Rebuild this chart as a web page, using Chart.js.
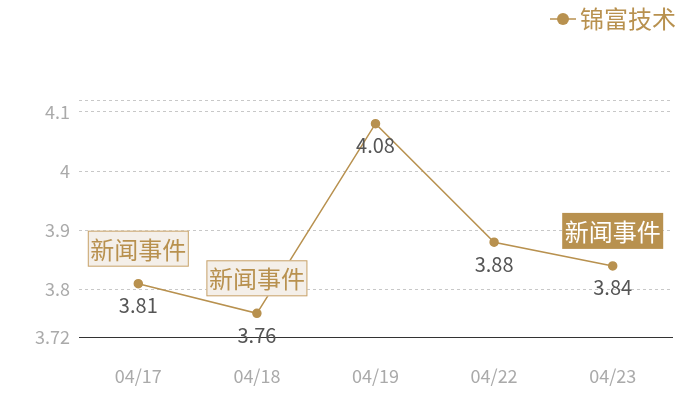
<!DOCTYPE html>
<html>
<head>
<meta charset="utf-8">
<script src="https://cdn.jsdelivr.net/npm/chart.js@4/dist/chart.umd.min.js"></script>
<style>
  html, body { margin: 0; padding: 0; background: #fff; }
  #wrap { width: 700px; height: 400px; }
</style>
</head>
<body>
<div id="wrap"><canvas id="grafico"></canvas></div>
<script>
const datas = ["04/17", "04/18", "04/19", "04/22", "04/23"];
const precos = [3.81, 3.76, 4.08, 3.88, 3.84];
const eventos = ["outline", "outline", null, null, "filled"];
const ticksY = [3.72, 3.8, 3.9, 4.0, 4.1, 4.12];
const rotuloSerie = "锦富技术";
const rotuloEvento = "新闻事件";

const OURO = "#b8914f";
const FONTE = "'Noto Sans CJK SC', 'Noto Sans', sans-serif";

// rótulos de valor + caixas de notícia
const pluginMarcas = {
  id: "marcas",
  afterDatasetsDraw(chart) {
    const ctx = chart.ctx;
    const meta = chart.getDatasetMeta(0);
    ctx.save();
    meta.data.forEach((p, i) => {
      ctx.font = "20px " + FONTE;
      ctx.fillStyle = "#555";
      ctx.textAlign = "center";
      ctx.textBaseline = "middle";
      ctx.fillText(String(precos[i]), p.x, p.y + 22);

      const tipo = eventos[i];
      if (!tipo) return;
      const w = 101, h = 36;
      const x0 = p.x - w / 2, y0 = p.y - 17 - h;
      if (tipo === "filled") {
        ctx.fillStyle = OURO;
        ctx.fillRect(x0, y0, w, h);
        ctx.fillStyle = "#fff";
      } else {
        ctx.fillStyle = "#f4efe9";
        ctx.fillRect(x0, y0, w, h);
        ctx.strokeStyle = "#c9a46c";
        ctx.lineWidth = 1;
        ctx.strokeRect(x0 + 0.5, y0 + 0.5, w - 1, h - 1);
        ctx.fillStyle = OURO;
      }
      ctx.font = "24px " + FONTE;
      ctx.fillText(rotuloEvento, p.x, y0 + h / 2 + 1);
    });
    ctx.restore();
  },
  afterDraw(chart) {
    const ctx = chart.ctx;
    ctx.save();
    ctx.font = "24px " + FONTE;
    ctx.textAlign = "right";
    ctx.textBaseline = "middle";
    ctx.fillStyle = OURO;
    const xr = 676, y = 19;
    const tw = ctx.measureText(rotuloSerie).width;
    ctx.fillText(rotuloSerie, xr, y);
    const xl = xr - tw - 4;
    ctx.strokeStyle = OURO;
    ctx.lineWidth = 1.5;
    ctx.beginPath();
    ctx.moveTo(xl - 26, y);
    ctx.lineTo(xl, y);
    ctx.stroke();
    ctx.beginPath();
    ctx.arc(xl - 13, y, 6, 0, Math.PI * 2);
    ctx.fill();
    ctx.restore();
  }
};

new Chart(document.getElementById("grafico").getContext("2d"), {
  type: "line",
  data: {
    labels: datas,
    datasets: [{
      label: rotuloSerie,
      data: precos,
      borderColor: OURO,
      backgroundColor: OURO,
      borderWidth: 1.5,
      pointRadius: 4,
      pointHoverRadius: 4,
      tension: 0
    }]
  },
  options: {
    responsive: true,
    maintainAspectRatio: false,
    animation: false,
    layout: { padding: { top: 100, right: 28, left: 0, bottom: 0 } },
    plugins: {
      legend: { display: false },
      tooltip: { enabled: false }
    },
    scales: {
      x: {
        offset: true,
        grid: { display: false },
        border: { display: true, color: "#333", width: 1 },
        ticks: { color: "#aaa", font: { size: 18, family: FONTE }, padding: 20 },
        afterFit(s) { s.height = 63; }
      },
      y: {
        min: 3.72,
        max: 4.12,
        border: { display: false, dash: [3, 3] },
        grid: {
          color: c => (c.tick && c.tick.value === 3.72) ? "rgba(0,0,0,0)" : "#c8c8c8",
          lineWidth: 1,
          drawTicks: false
        },
        afterBuildTicks(s) { s.ticks = ticksY.map(v => ({ value: v })); },
        ticks: {
          color: "#aaa",
          font: { size: 18, family: FONTE },
          padding: 9,
          callback: v => (v === 4.12 ? "" : String(+v.toFixed(2)))
        },
        afterFit(s) { s.width = 79; }
      }
    }
  },
  plugins: [pluginMarcas]
});
</script>
</body>
</html>
